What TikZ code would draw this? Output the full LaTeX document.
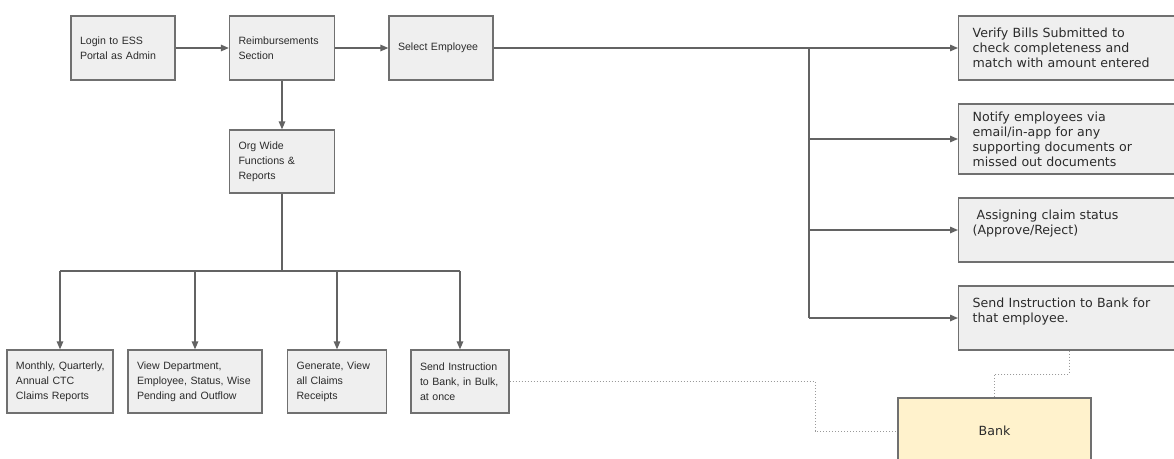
\documentclass[tikz,border=0pt]{standalone}
\usepackage{fontspec}
\setmainfont{Liberation Sans}
\newfontfamily\dvs{DejaVu Sans}
\usetikzlibrary{arrows.meta}
\definecolor{boxfill}{HTML}{EFEFEF}
\definecolor{boxline}{HTML}{707070}
\definecolor{lin}{HTML}{636363}
\definecolor{txt}{HTML}{2B2B2B}
\definecolor{bankfill}{HTML}{FFF2CC}
\definecolor{dotc}{HTML}{9A9A9A}
\begin{document}
\hyphenpenalty=10000 \exhyphenpenalty=10000 \hbadness=10000 \hfuzz=20pt
\begin{tikzpicture}[x=1pt,y=-1pt,
  box/.style={draw=boxline, fill=boxfill, line width=1.3pt, inner xsep=9pt, inner ysep=0pt,
    align=left, text=txt, font=\fontsize{10.6}{15}\selectfont, anchor=center},
  rbox/.style={box, inner xsep=14pt, anchor=west, minimum width=225pt, text width=197pt,
    font=\dvs\fontsize{12.6}{15}\selectfont},
  arr/.style={draw=lin, line width=1.4pt, -{Triangle[length=8pt,width=6.5pt]}},
  ln/.style={draw=lin, line width=1.4pt},
  dotl/.style={draw=dotc, line width=1pt, dotted}]
\useasboundingbox (0,0) rectangle (1174,458);
\clip (0,0) rectangle (1174,458);
\fill[white] (0,0) rectangle (1174,458);

% top row
\node[box, minimum width=104pt, minimum height=64pt, text width=86pt] (login) at (123,48) {Login to ESS\\Portal as Admin};
\node[box, minimum width=105pt, minimum height=64pt, text width=87pt] (reimb) at (282,48) {Reimbursements\\Section};
\node[box, minimum width=104pt, minimum height=64pt, text width=86pt] (sel) at (441,48) {Select Employee};
\node[box, minimum width=105pt, minimum height=63pt, text width=87pt] (org) at (282,161.5) {Org Wide\\Functions \&\\Reports};

% bottom row
\node[box, minimum width=106pt, minimum height=63pt, text width=88pt] (b1) at (60,381.5) {\mbox{Monthly, Quarterly,}\\Annual CTC\\Claims Reports};
\node[box, minimum width=134pt, minimum height=63pt, text width=116pt] (b2) at (195,381.5) {View Department,\\\mbox{Employee, Status, Wise}\\Pending and Outflow};
\node[box, minimum width=99pt, minimum height=63pt, text width=81pt] (b3) at (337,381.5) {Generate, View\\all Claims\\Receipts};
\node[box, minimum width=98pt, minimum height=63pt, text width=80pt] (b4) at (460,381.5) {Send Instruction\\\mbox{to Bank, in Bulk,}\\at once};

% right column
\node[rbox, minimum height=64pt] (r1) at (958,48) {Verify Bills Submitted to\\check completeness and\\match with amount entered};
\node[rbox, minimum height=70pt] (r2) at (958,139) {Notify employees via\\email/in-app for any\\supporting documents or\\missed out documents};
\node[rbox, minimum height=64pt] (r3) at (958,230) {\hspace*{4pt}Assigning claim status\\(Approve/Reject)\\\mbox{}};
\node[rbox, minimum height=64pt] (r4) at (958,318) {Send Instruction to Bank for\\that employee.\\\mbox{}};

% bank
\node[draw=boxline, fill=bankfill, line width=1.3pt, minimum width=193pt, minimum height=66pt,
  text=txt, font=\dvs\fontsize{12.6}{15}\selectfont] (bank) at (994.5,431) {Bank};

% connectors
\draw[arr] (login) -- (reimb);
\draw[arr] (reimb) -- (sel);
\draw[arr] (reimb) -- (org);

\coordinate (hub) at (282,271);
\draw[ln] (org.south) -- (hub);
\draw[ln] (b1.north |- hub) -- (b4.north |- hub);
\draw[arr] (b1.north |- hub) -- (b1.north);
\draw[arr] (b2.north |- hub) -- (b2.north);
\draw[arr] (b3.north |- hub) -- (b3.north);
\draw[arr] (b4.north |- hub) -- (b4.north);

\coordinate (split) at (809,48);
\draw[arr] (sel.east) -- (r1.west);
\draw[ln] (split) -- (809,318);
\draw[arr] (split |- r2.west) -- (r2.west);
\draw[arr] (split |- r3.west) -- (r3.west);
\draw[arr] (split |- r4.west) -- (r4.west);

% dotted links to bank
\draw[dotl] (b4.east) -- (815,381.5) -- (815,431) -- (bank.west);
\draw[dotl] (r4.south -| 1069,0) -- (1069,374) -- (bank.north |- 0,374) -- (bank.north);
\end{tikzpicture}
\end{document}
